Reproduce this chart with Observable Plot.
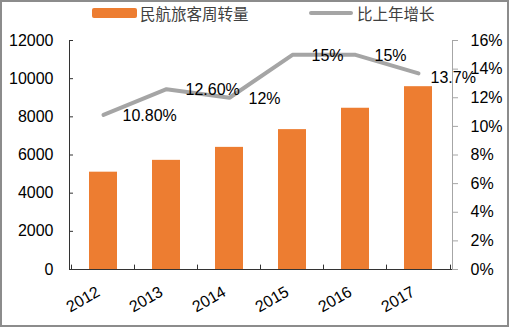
<!DOCTYPE html>
<html>
<head>
<meta charset="utf-8">
<script src="https://cdn.jsdelivr.net/npm/d3@7"></script>
<script src="https://cdn.jsdelivr.net/npm/@observablehq/plot@0.6"></script>
<style>
  html, body { margin: 0; padding: 0; background: #fff; }
  #wrap { position: relative; width: 510px; height: 328px; overflow: hidden; font-family: "Liberation Sans", Arial, sans-serif; }
  #frame { position: absolute; left: 0; top: 0; width: 509px; height: 327px; box-sizing: border-box; border: 2px solid #8c8c8c; pointer-events: none; }
  #legend { position: absolute; left: 0; top: 0; width: 510px; height: 26px; font-family: "Noto Sans CJK SC", sans-serif; font-size: 15.5px; color: #404040; }
  .sw { position: absolute; }
  .lt { position: absolute; top: 3px; line-height: 20px; white-space: nowrap; }
  #chart { position: absolute; left: 0; top: 26px; }
</style>
</head>
<body>
<div id="wrap">
  <div id="legend"></div>
  <div id="chart"></div>
  <div id="frame"></div>
</div>
<script>
const years = ["2012", "2013", "2014", "2015", "2016", "2017"];
const traffic = [5100, 5720, 6400, 7330, 8450, 9580];      // 民航旅客周转量
const growth = [10.8, 12.6, 12, 15, 15, 13.7];              // 比上年增长 (%)
const growthLabels = ["10.80%", "12.60%", "12%", "15%", "15%", "13.7%"];
const leftTicks = [0, 2000, 4000, 6000, 8000, 10000, 12000];
const rightTicks = [0, 2, 4, 6, 8, 10, 12, 14, 16];
const seriesNames = ["民航旅客周转量", "比上年增长"];

const barColor = "#ED7D31";
const lineColor = "#A5A5A5";
const ratio = 12000 / 16; // right-axis % to left-axis units

const data = years.map((y, i) => ({
  year: y, traffic: traffic[i], growth: growth[i], g: growth[i] * ratio, label: growthLabels[i], last: i === years.length - 1
}));

// Legend
const legend = document.getElementById("legend");
legend.innerHTML = `
  <div class="sw" style="left:92px;top:8px;width:45px;height:10px;background:${barColor};border-radius:2px"></div>
  <div class="lt" style="left:140px">${seriesNames[0]}</div>
  <div class="sw" style="left:309px;top:11px;width:44px;height:4px;background:${lineColor};border-radius:2px"></div>
  <div class="lt" style="left:357px">${seriesNames[1]}</div>`;

const chart = Plot.plot({
  width: 510,
  height: 302,
  marginLeft: 69,
  marginRight: 58,
  marginTop: 14,
  marginBottom: 59,
  style: { fontFamily: "'Liberation Sans', Arial, sans-serif", fontSize: "16px", color: "#000", background: "transparent" },
  x: { type: "band", domain: years, paddingInner: 0.55, paddingOuter: 0.275 },
  y: { domain: [0, 12000] },
  marks: [
    Plot.barY(data, { x: "year", y: "traffic", fill: barColor }),
    // axis lines
    Plot.frame({ anchor: "left", stroke: "#333" }),
    Plot.frame({ anchor: "right", stroke: "#a6a6a6" }),
    Plot.ruleY([0], { stroke: "#333" }),
    // x boundary ticks (inward)
    Plot.ruleX(years, { x: d => d, dx: -32, y1: 0, y2: 230, stroke: "#333" }),
    Plot.ruleX(years.slice(-1), { x: d => d, dx: 32, y1: 0, y2: 230, stroke: "#333" }),
    Plot.line(data, { x: "year", y: "g", stroke: lineColor, strokeWidth: 4, strokeLinejoin: "miter" }),
    Plot.text(data.filter(d => !d.last), { x: "year", y: "g", text: "label", textAnchor: "start", dx: 19, dy: 1, fontSize: 16, fill: "#000" }),
    Plot.text(data.filter(d => d.last), { x: "year", y: "g", text: "label", textAnchor: "start", dx: 12, dy: 4, fontSize: 16, fill: "#000" }),
    Plot.axisY({ anchor: "left", ticks: leftTicks, tickSize: 0, tickPadding: 16, label: null, tickFormat: d => String(d) }),
    Plot.axisY({ anchor: "left", ticks: leftTicks, tickSize: 4, tickPadding: 0, dx: 4, label: null, tickFormat: () => "", stroke: "#333" }),
    Plot.axisY({ anchor: "right", ticks: rightTicks.map(t => t * ratio), tickSize: 5, tickPadding: 13, label: null, stroke: "#a6a6a6", tickFormat: d => `${Math.round(d / ratio)}%` }),
    Plot.axisX({ anchor: "bottom", tickSize: 0, tickRotate: -30, tickPadding: 21, dx: -5, label: null })
  ]
});
document.getElementById("chart").appendChild(chart);
</script>
</body>
</html>
